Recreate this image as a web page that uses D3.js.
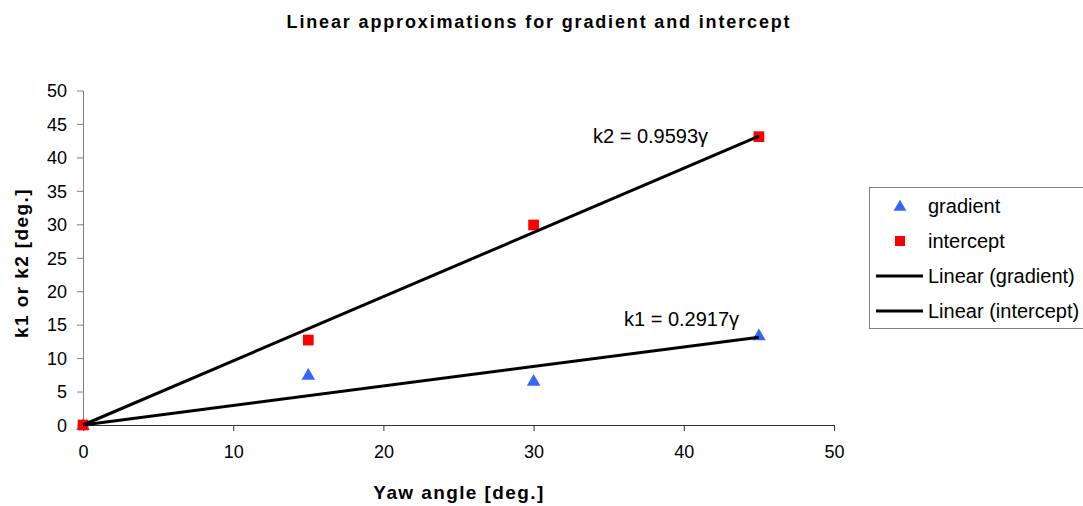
<!DOCTYPE html>
<html>
<head>
<meta charset="utf-8">
<script src="https://cdn.jsdelivr.net/npm/d3@7"></script>
<style>
  body { margin: 0; background: #fff; }
  text { font-family: Arial, "Liberation Sans", sans-serif; }
</style>
</head>
<body>
<div id="chart"></div>
<script>
// data
var yawAngles = [0, 15, 30, 45];
var gradient = [0, 7.5, 6.6, 13.4];
var intercept = [0, 12.7, 29.9, 43.1];
var trendNames = ["k1", "k2"];
var trendSlopes = [0.2917, 0.9593];
var xTicks = [0, 10, 20, 30, 40, 50];
var yTicks = [0, 5, 10, 15, 20, 25, 30, 35, 40, 45, 50];

var svgWidth = 1083;
var svgHeight = 506;

var margin = { top: 90.5, right: 249, bottom: 81, left: 83 };
var chartWidth = svgWidth - margin.left - margin.right;
var chartHeight = svgHeight - margin.top - margin.bottom;

var svg = d3.select("#chart")
  .append("svg")
  .attr("width", svgWidth)
  .attr("height", svgHeight);

var chartGroup = svg.append("g")
  .attr("transform", `translate(${margin.left}, ${margin.top})`);

var xScale = d3.scaleLinear().domain([0, 50]).range([0, chartWidth]);
var yScale = d3.scaleLinear().domain([0, 50]).range([chartHeight, 0]);

// title
svg.append("text")
  .attr("x", 539)
  .attr("y", 28)
  .attr("text-anchor", "middle")
  .attr("font-weight", "bold")
  .attr("font-size", 18)
  .attr("letter-spacing", 1.85)
  .text("Linear approximations for gradient and intercept");

// axes
var leftAxis = d3.axisLeft(yScale).tickValues(yTicks).tickSize(6).tickPadding(10).tickSizeOuter(0);
var bottomAxis = d3.axisBottom(xScale).tickValues(xTicks).tickSize(6).tickPadding(14).tickSizeOuter(0);

var yAxisG = chartGroup.append("g").call(leftAxis);
var xAxisG = chartGroup.append("g")
  .attr("transform", `translate(0, ${chartHeight})`)
  .call(bottomAxis);

yAxisG.selectAll("path, line").attr("stroke", "#808080").attr("stroke-width", 1);
xAxisG.selectAll("path, line").attr("stroke", "#333").attr("stroke-width", 1);
[yAxisG, xAxisG].forEach(g => {
  g.selectAll("text").attr("font-size", 18).attr("fill", "#000")
    .attr("font-family", "Arial, 'Liberation Sans', sans-serif");
});
yAxisG.selectAll("text").attr("dy", "0.35em");

// axis titles
svg.append("text")
  .attr("x", 459)
  .attr("y", 499)
  .attr("text-anchor", "middle")
  .attr("font-weight", "bold")
  .attr("font-size", 19)
  .attr("letter-spacing", 1.4)
  .text("Yaw angle [deg.]");

svg.append("text")
  .attr("transform", "rotate(-90)")
  .attr("x", -263)
  .attr("y", 28)
  .attr("text-anchor", "middle")
  .attr("font-weight", "bold")
  .attr("font-size", 19)
  .attr("letter-spacing", 1.4)
  .text("k1 or k2 [deg.]");

// markers
var triangle = d3.symbol().type(d3.symbolTriangle).size(80);
var square = d3.symbol().type(d3.symbolSquare).size(115);

chartGroup.selectAll(".gradient")
  .data(yawAngles)
  .enter()
  .append("path")
  .attr("class", "gradient")
  .attr("d", triangle)
  .attr("transform", (d, i) => `translate(${xScale(d)}, ${yScale(gradient[i]) + 1})`)
  .attr("fill", "#3366ff");

chartGroup.selectAll(".intercept")
  .data(yawAngles)
  .enter()
  .append("path")
  .attr("class", "intercept")
  .attr("d", square)
  .attr("transform", (d, i) => `translate(${xScale(d)}, ${yScale(intercept[i])})`)
  .attr("fill", "#ff0000");

// linear trendlines through origin
var line = d3.line()
  .x(d => xScale(d[0]))
  .y(d => yScale(d[1]));

trendSlopes.forEach(k => {
  var ends = [0, d3.max(yawAngles)].map(x => [x, k * x]);
  chartGroup.append("path")
    .datum(ends)
    .attr("d", line)
    .attr("fill", "none")
    .attr("stroke", "#000")
    .attr("stroke-width", 3);
});

// equation labels
var eqPos = [[624, 326], [593, 143]];
trendNames.forEach((name, i) => {
  svg.append("text")
    .attr("x", eqPos[i][0])
    .attr("y", eqPos[i][1])
    .attr("font-size", 20)
    .text(`${name} = ${trendSlopes[i]}γ`);
});

// legend
var legend = svg.append("g").attr("transform", "translate(869, 187)");
legend.append("rect")
  .attr("x", 0.5).attr("y", 0.5)
  .attr("width", 230).attr("height", 141)
  .attr("fill", "#fff")
  .attr("stroke", "#808080");

var legendItems = ["gradient", "intercept", "Linear (gradient)", "Linear (intercept)"];
legendItems.forEach((label, i) => {
  var y = 19 + i * 35;
  if (i === 0) {
    legend.append("path").attr("d", d3.symbol().type(d3.symbolTriangle).size(70))
      .attr("transform", `translate(31, ${y + 1})`).attr("fill", "#3366ff");
  } else if (i === 1) {
    legend.append("path").attr("d", d3.symbol().type(d3.symbolSquare).size(100))
      .attr("transform", `translate(31, ${y})`).attr("fill", "#ff0000");
  } else {
    legend.append("line")
      .attr("x1", 7).attr("x2", 54).attr("y1", y).attr("y2", y)
      .attr("stroke", "#000").attr("stroke-width", 3);
  }
  legend.append("text")
    .attr("x", 59)
    .attr("y", y)
    .attr("dy", "0.35em")
    .attr("font-size", 20)
    .text(label);
});
</script>
</body>
</html>
